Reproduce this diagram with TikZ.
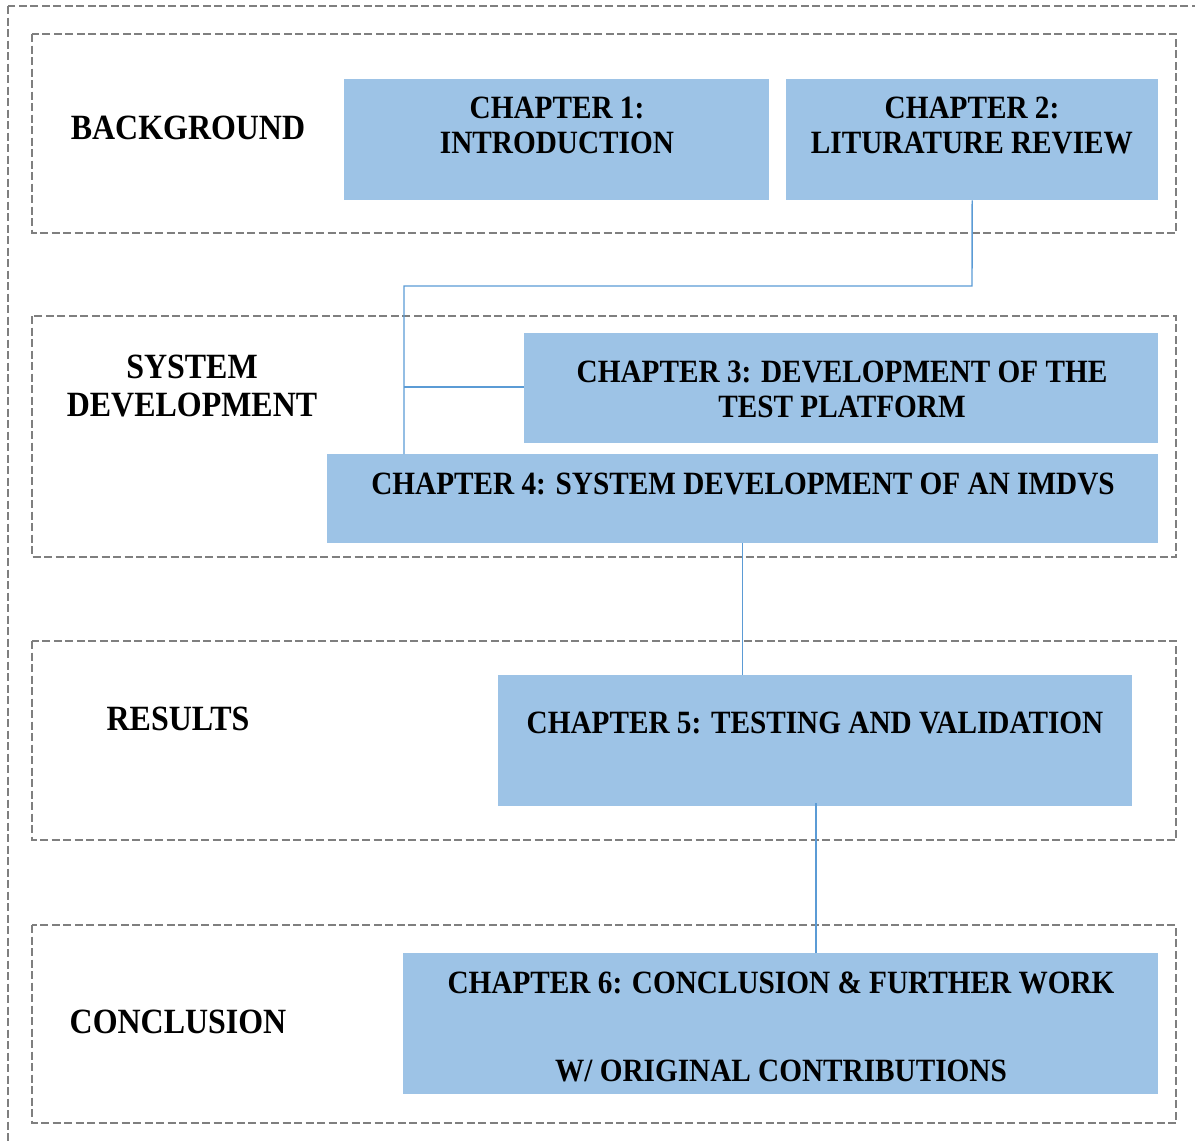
\documentclass[tikz,border=0pt]{standalone}
\usepackage{fontspec}
\setmainfont{Liberation Serif}[FakeStretch=0.9]
\begin{document}
\begin{tikzpicture}[x=1pt,y=-1pt,
  sect/.style={draw=sectgray, line width=2.8pt, dash pattern=on 8pt off 3.5pt},
  chap/.style={fill=boxblue, draw=none, anchor=north west, inner sep=0pt},
  conn/.style={draw=lineblue, line width=1.4pt},
  lbl/.style={font=\fontsize{32.5}{35}\selectfont\bfseries, align=center, inner sep=0pt, text=black},
  sectlbl/.style={lbl, font=\fontsize{35.5}{38}\selectfont\bfseries}]
\definecolor{boxblue}{HTML}{9DC3E6}
\definecolor{lineblue}{HTML}{5B9BD5}
\definecolor{sectgray}{HTML}{7F7F7F}
\useasboundingbox (0,0) rectangle (1195,1143);
\begin{scope}
\clip (0,0) rectangle (1195,1143);
\draw[sect] (8,6) rectangle (1215,1160);
\end{scope}
% sections
\draw[sect] (32,34) rectangle (1176,233);
\draw[sect] (32,316) rectangle (1176,557);
\draw[sect] (32,641) rectangle (1176,840);
\draw[sect] (32,925) rectangle (1176,1123);
% chapter boxes
\node[chap, minimum width=425pt, minimum height=121pt] (c1) at (344,79) {};
\node[chap, minimum width=372pt, minimum height=121pt] (c2) at (786,79) {};
\node[chap, minimum width=634pt, minimum height=110pt] (c3) at (524,333) {};
\node[chap, minimum width=831pt, minimum height=89pt] (c4) at (327,454) {};
\node[chap, minimum width=634pt, minimum height=131pt] (c5) at (498,675) {};
\node[chap, minimum width=755pt, minimum height=141pt] (c6) at (403,953) {};
% labels
\node[sectlbl] (lb) at (188,128) {BACKGROUND};
\node[sectlbl] (ls) at (192,386) {SYSTEM\\DEVELOPMENT};
\node[sectlbl] (lr) at (178,719) {RESULTS};
\node[sectlbl] (lc) at (178,1022) {CONCLUSION};
\node[lbl] (t1) at (557,125) {CHAPTER 1:\\INTRODUCTION};
\node[lbl] (t2) at (972,125) {CHAPTER 2:\\LITURATURE REVIEW};
\node[lbl] (t3) at (842,389) {CHAPTER 3: DEVELOPMENT OF THE\\TEST PLATFORM};
\node[lbl] (t4) at (743,484) {CHAPTER 4: SYSTEM DEVELOPMENT OF AN IMDVS};
\node[lbl] (t5) at (815,723) {CHAPTER 5: TESTING AND VALIDATION};
\node[lbl] (t6a) at (781,983) {CHAPTER 6: CONCLUSION \& FURTHER WORK};
\node[lbl] (t6b) at (781,1071) {W/ ORIGINAL CONTRIBUTIONS};
% connectors
\coordinate (j1) at (972,286);
\coordinate (j2) at (404,286);
\coordinate (j3) at (404,387);
\draw[conn] (c2.south) -- (j1) -- (j2) -- (j2 |- c4.north);
\draw[conn] (j3) -- (j3 -| c3.west);
\draw[conn] (c4.south) -- (c4.south |- c5.north);
\draw[conn] (816,803) -- (816,953);
\end{tikzpicture}
\end{document}
